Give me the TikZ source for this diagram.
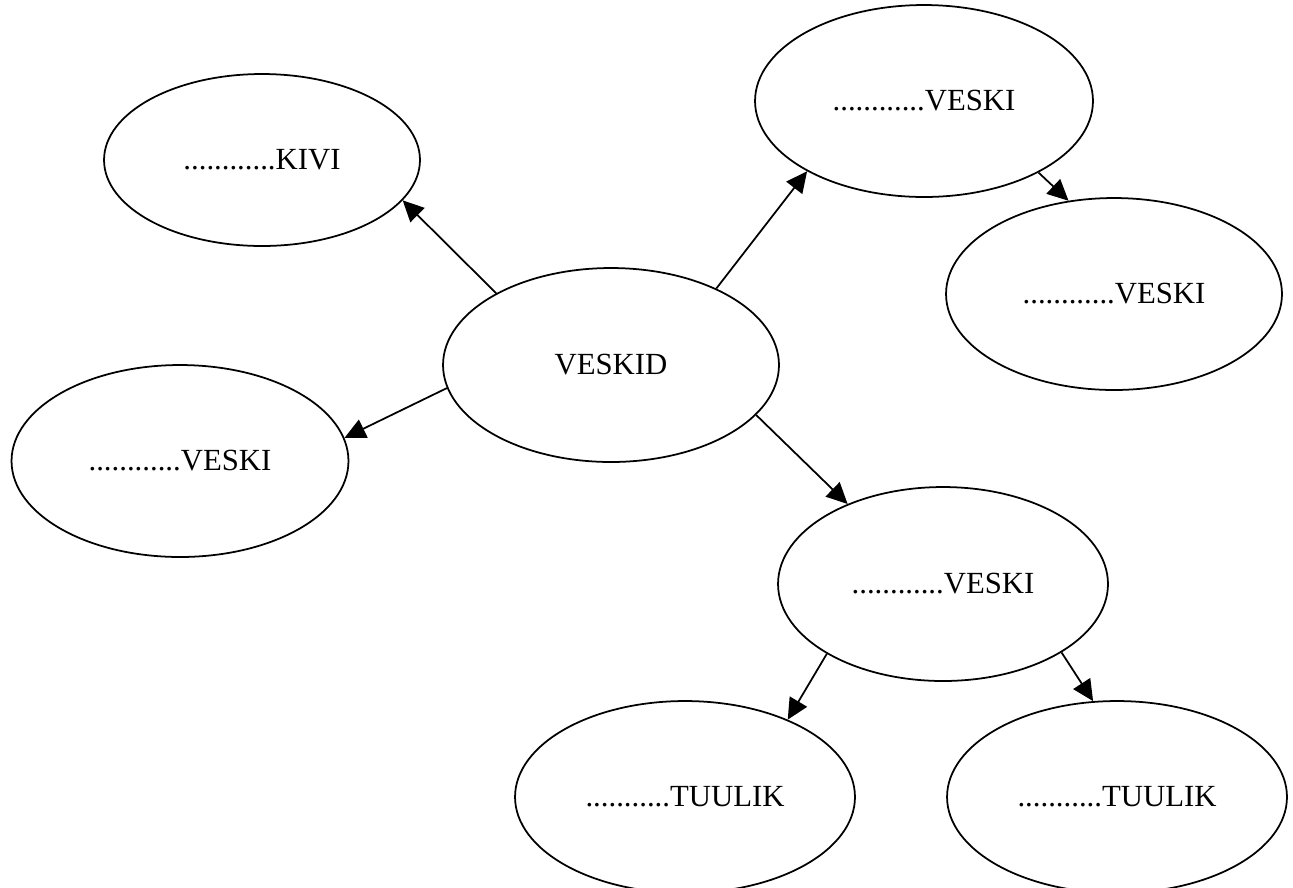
\documentclass[tikz,border=0pt]{standalone}
\usepackage{fontspec}
\setmainfont{Liberation Serif}
\usepackage{tikz}
\usetikzlibrary{arrows.meta,shapes.geometric}

\tikzset{
  bubble/.style={draw, ellipse, inner sep=0pt, line width=1pt,
    font=\fontsize{17.5}{21}\selectfont},
}

\begin{document}
\begin{tikzpicture}[x=0.02cm, y=-0.02cm,
    -{Triangle[length=0.42cm,width=0.4cm]}, line width=1pt]
      \useasboundingbox (0,0) rectangle (1293,887);
      \node [bubble, minimum width=6.32cm, minimum height=3.44cm] (kivi) at (262,160) {............KIVI};
      \node [bubble, minimum width=6.76cm, minimum height=3.84cm] (veskiA) at (924,101) {............VESKI};
      \node [bubble, minimum width=6.72cm, minimum height=3.84cm] (veskiB) at (1114,294) {............VESKI};
      \node [bubble, minimum width=6.72cm, minimum height=3.88cm] (veskid) at (611,365) {VESKID};
      \node [bubble, minimum width=6.74cm, minimum height=3.84cm] (veskiC) at (180,461) {............VESKI};
      \node [bubble, minimum width=6.6cm, minimum height=3.88cm] (veskiD) at (943,584) {............VESKI};
      \node [bubble, minimum width=6.8cm, minimum height=3.84cm] (tuulikA) at (685,797) {...........TUULIK};
      \node [bubble, minimum width=6.8cm, minimum height=3.84cm] (tuulikB) at (1117,797) {...........TUULIK};
      \path
      (veskid.148.8) edge (kivi.344.3)
      (veskid.36.9) edge (veskiA.211.4)
      (veskid.188.1) edge (veskiC.8.2)
      (veskid.341.6) edge (veskiD.140.7)
      (veskiA.328.8) edge (veskiB.116.8)
      (veskiD.211) edge (tuulikA.37.9)
      (veskiD.330.9) edge (tuulikB.104.7)
      ;
      \end{tikzpicture}
\end{document}
